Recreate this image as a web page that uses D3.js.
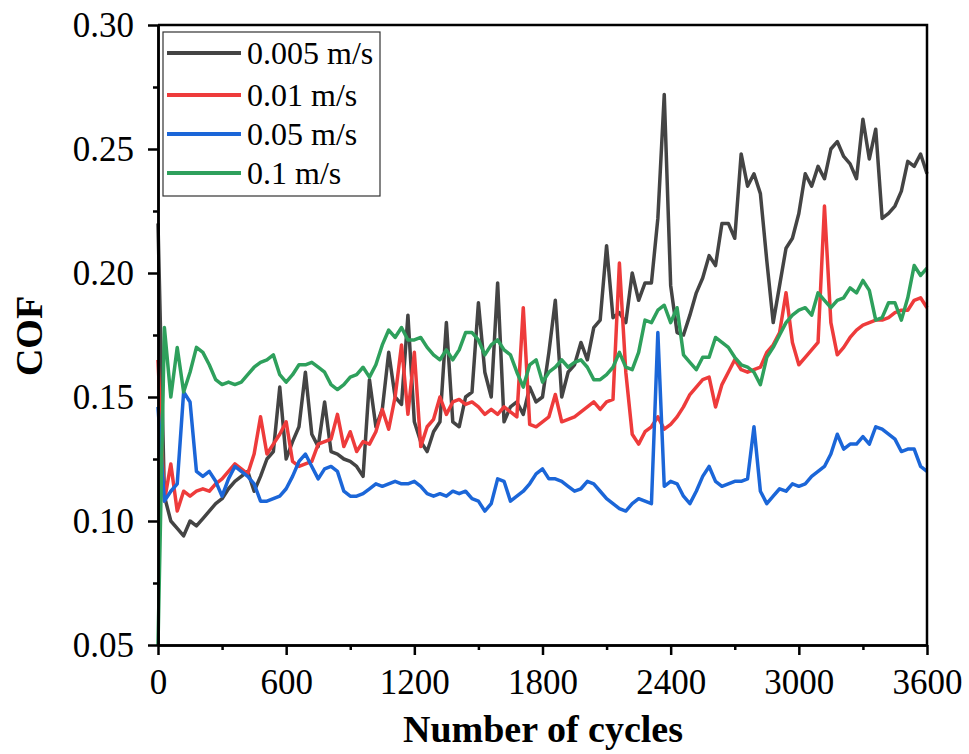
<!DOCTYPE html>
<html>
<head>
<meta charset="utf-8">
<script src="https://cdn.jsdelivr.net/npm/d3@7"></script>
<style>
  body { margin: 0; background: #fff; }
  svg { display: block; }
</style>
</head>
<body>
<svg width="969" height="754"></svg>
<script>
// cycles sampled every 30
const cycles = [
  0, 30, 60, 90, 120, 150, 180, 210, 240, 270,
  300, 330, 360, 390, 420, 450, 480, 510, 540, 570,
  600, 630, 660, 690, 720, 750, 780, 810, 840, 870,
  900, 930, 960, 990, 1020, 1050, 1080, 1110, 1140, 1170,
  1200, 1230, 1260, 1290, 1320, 1350, 1380, 1410, 1440, 1470,
  1500, 1530, 1560, 1590, 1620, 1650, 1680, 1710, 1740, 1770,
  1800, 1830, 1860, 1890, 1920, 1950, 1980, 2010, 2040, 2070,
  2100, 2130, 2160, 2190, 2220, 2250, 2280, 2310, 2340, 2370,
  2400, 2430, 2460, 2490, 2520, 2550, 2580, 2610, 2640, 2670,
  2700, 2730, 2760, 2790, 2820, 2850, 2880, 2910, 2940, 2970,
  3000, 3030, 3060, 3090, 3120, 3150, 3180, 3210, 3240, 3270,
  3300, 3330, 3360, 3390, 3420, 3450, 3480, 3510, 3540, 3570,
  3600
];

const cof0005 = [
  0.220, 0.110, 0.100, 0.097, 0.094, 0.100, 0.098, 0.101, 0.104, 0.107,
  0.109, 0.113, 0.116, 0.118, 0.120, 0.112, 0.118, 0.125, 0.128, 0.154,
  0.125, 0.132, 0.138, 0.160, 0.135, 0.130, 0.148, 0.128, 0.127, 0.125,
  0.124, 0.122, 0.118, 0.157, 0.138, 0.145, 0.168, 0.150, 0.147, 0.183,
  0.140, 0.132, 0.128, 0.136, 0.140, 0.180, 0.140, 0.138, 0.150, 0.152,
  0.188, 0.160, 0.150, 0.196, 0.140, 0.146, 0.148, 0.143, 0.154, 0.148,
  0.150, 0.168, 0.189, 0.150, 0.160, 0.163, 0.172, 0.165, 0.178, 0.181,
  0.211, 0.182, 0.184, 0.180, 0.200, 0.189, 0.196, 0.196, 0.222, 0.272,
  0.195, 0.176, 0.175, 0.183, 0.192, 0.198, 0.207, 0.203, 0.220, 0.220,
  0.214, 0.248, 0.235, 0.240, 0.232, 0.205, 0.180, 0.195, 0.210, 0.214,
  0.224, 0.240, 0.235, 0.243, 0.238, 0.250, 0.253, 0.247, 0.244, 0.238,
  0.262, 0.246, 0.258, 0.222, 0.224, 0.227, 0.233, 0.245, 0.243, 0.248,
  0.240
];

const cof001 = [
  0.165, 0.108, 0.123, 0.104, 0.112, 0.110, 0.112, 0.113, 0.112, 0.115,
  0.117, 0.120, 0.123, 0.121, 0.119, 0.127, 0.142, 0.127, 0.131, 0.135,
  0.140, 0.124, 0.122, 0.123, 0.124, 0.131, 0.132, 0.133, 0.143, 0.130,
  0.136, 0.128, 0.132, 0.131, 0.136, 0.145, 0.137, 0.150, 0.171, 0.143,
  0.168, 0.130, 0.138, 0.141, 0.150, 0.143, 0.148, 0.149, 0.147, 0.148,
  0.146, 0.143, 0.145, 0.143, 0.146, 0.144, 0.142, 0.186, 0.139, 0.138,
  0.140, 0.142, 0.151, 0.140, 0.141, 0.142, 0.144, 0.146, 0.148, 0.145,
  0.148, 0.149, 0.204, 0.160, 0.135, 0.131, 0.136, 0.138, 0.142, 0.137,
  0.139, 0.142, 0.146, 0.151, 0.154, 0.157, 0.158, 0.146, 0.155, 0.160,
  0.165, 0.161, 0.160, 0.161, 0.162, 0.168, 0.171, 0.176, 0.192, 0.172,
  0.163, 0.166, 0.169, 0.172, 0.227, 0.180, 0.167, 0.170, 0.174, 0.177,
  0.179, 0.180, 0.181, 0.181, 0.182, 0.184, 0.185, 0.185, 0.189, 0.190,
  0.186
];

const cof005 = [
  0.146, 0.108, 0.112, 0.115, 0.152, 0.148, 0.120, 0.118, 0.120, 0.116,
  0.110, 0.117, 0.122, 0.120, 0.118, 0.115, 0.108, 0.108, 0.109, 0.110,
  0.113, 0.118, 0.124, 0.127, 0.122, 0.117, 0.121, 0.122, 0.120, 0.112,
  0.110, 0.110, 0.111, 0.113, 0.115, 0.114, 0.115, 0.116, 0.115, 0.115,
  0.116, 0.114, 0.111, 0.110, 0.111, 0.110, 0.112, 0.111, 0.112, 0.109,
  0.108, 0.104, 0.107, 0.117, 0.116, 0.108, 0.110, 0.112, 0.115, 0.119,
  0.121, 0.117, 0.117, 0.116, 0.114, 0.112, 0.113, 0.116, 0.115, 0.112,
  0.109, 0.107, 0.105, 0.104, 0.107, 0.109, 0.108, 0.107, 0.176, 0.114,
  0.116, 0.115, 0.110, 0.107, 0.112, 0.118, 0.122, 0.116, 0.114, 0.115,
  0.116, 0.116, 0.117, 0.138, 0.112, 0.107, 0.110, 0.113, 0.112, 0.115,
  0.114, 0.115, 0.118, 0.120, 0.122, 0.127, 0.135, 0.129, 0.131, 0.131,
  0.134, 0.131, 0.138, 0.137, 0.135, 0.133, 0.128, 0.129, 0.129, 0.122,
  0.120
];

const cof01 = [
  0.050, 0.178, 0.150, 0.170, 0.152, 0.160, 0.170, 0.168, 0.163, 0.157,
  0.155, 0.156, 0.155, 0.156, 0.159, 0.162, 0.164, 0.165, 0.167, 0.159,
  0.156, 0.159, 0.163, 0.163, 0.164, 0.162, 0.160, 0.155, 0.153, 0.155,
  0.158, 0.159, 0.162, 0.158, 0.163, 0.171, 0.177, 0.174, 0.178, 0.173,
  0.173, 0.174, 0.170, 0.167, 0.165, 0.169, 0.165, 0.169, 0.176, 0.176,
  0.173, 0.167, 0.171, 0.173, 0.169, 0.167, 0.160, 0.154, 0.163, 0.165,
  0.156, 0.160, 0.162, 0.165, 0.162, 0.164, 0.165, 0.162, 0.157, 0.157,
  0.159, 0.162, 0.168, 0.162, 0.161, 0.168, 0.181, 0.180, 0.185, 0.187,
  0.180, 0.186, 0.167, 0.164, 0.161, 0.166, 0.166, 0.174, 0.172, 0.170,
  0.166, 0.163, 0.162, 0.160, 0.155, 0.166, 0.170, 0.175, 0.180, 0.183,
  0.185, 0.186, 0.183, 0.192, 0.189, 0.186, 0.189, 0.190, 0.194, 0.192,
  0.197, 0.193, 0.181, 0.182, 0.188, 0.188, 0.181, 0.190, 0.203, 0.199,
  0.202
];

const seriesNames = ['0.005 m/s', '0.01 m/s', '0.05 m/s', '0.1 m/s'];
const seriesValues = [cof0005, cof001, cof005, cof01];
const seriesColors = ['#444444', '#ee3b3b', '#1b66d8', '#2ea05c'];

const xTicks = [0, 600, 1200, 1800, 2400, 3000, 3600];
const xMinor = [300, 900, 1500, 2100, 2700, 3300];
const yTicks = [0.05, 0.10, 0.15, 0.20, 0.25, 0.30];
const yMinor = [0.075, 0.125, 0.175, 0.225, 0.275];

const svg = d3.select('svg');
const font = '"Liberation Serif", "Times New Roman", serif';

svg.append('rect').attr('width', 969).attr('height', 754).attr('fill', '#fff');

const plot = { left: 158, right: 927, top: 25, bottom: 645 };

const x = d3.scaleLinear().domain([0, 3600]).range([plot.left, plot.right]);
const y = d3.scaleLinear().domain([0.05, 0.30]).range([plot.bottom, plot.top]);

// data lines
const line = d3.line()
  .x((d, i) => x(cycles[i]))
  .y(d => y(d));

svg.append('g')
  .selectAll('path')
  .data(seriesValues)
  .join('path')
  .attr('d', d => line(d))
  .attr('fill', 'none')
  .attr('stroke', (d, i) => seriesColors[i])
  .attr('stroke-width', 3.5)
  .attr('stroke-linejoin', 'round');

// frame top + right
svg.append('path')
  .attr('d', `M${plot.left},${plot.top}H${plot.right}V${plot.bottom}`)
  .attr('fill', 'none')
  .attr('stroke', '#000')
  .attr('stroke-width', 2.5);

// axes
const yAxis = svg.append('g')
  .attr('transform', `translate(${plot.left},0)`)
  .call(d3.axisLeft(y).tickValues(yTicks).tickFormat(d3.format('.2f'))
    .tickSize(10).tickSizeOuter(0).tickPadding(14));
const yAxisMinor = svg.append('g')
  .attr('transform', `translate(${plot.left},0)`)
  .call(d3.axisLeft(y).tickValues(yMinor).tickFormat('').tickSize(5).tickSizeOuter(0));

const xAxis = svg.append('g')
  .attr('transform', `translate(0,${plot.bottom})`)
  .call(d3.axisBottom(x).tickValues(xTicks).tickFormat(d3.format('d'))
    .tickSize(10).tickSizeOuter(0).tickPadding(14));
const xAxisMinor = svg.append('g')
  .attr('transform', `translate(0,${plot.bottom})`)
  .call(d3.axisBottom(x).tickValues(xMinor).tickFormat('').tickSize(5).tickSizeOuter(0));

[yAxis, yAxisMinor, xAxis, xAxisMinor].forEach(g => {
  g.select('.domain').attr('stroke', '#000').attr('stroke-width', 2.5);
  g.selectAll('.tick line').attr('stroke', '#000').attr('stroke-width', 2.5);
  g.selectAll('.tick text')
    .attr('fill', '#000')
    .style('font-family', font)
    .style('font-size', '35px');
});

// axis titles
svg.append('text')
  .attr('transform', 'translate(42,336) rotate(-90)')
  .attr('text-anchor', 'middle')
  .style('font-family', font)
  .style('font-size', '38px')
  .style('font-weight', 'bold')
  .text('COF');

svg.append('text')
  .attr('x', 543)
  .attr('y', 742)
  .attr('text-anchor', 'middle')
  .style('font-family', font)
  .style('font-size', '38px')
  .style('font-weight', 'bold')
  .text('Number of cycles');

// legend
const legend = svg.append('g');
legend.append('rect')
  .attr('x', 163).attr('y', 32)
  .attr('width', 217).attr('height', 164)
  .attr('fill', '#fff')
  .attr('stroke', '#333')
  .attr('stroke-width', 1.2);

const legendRows = [53, 95, 134, 173];
seriesNames.forEach((name, i) => {
  legend.append('line')
    .attr('x1', 167).attr('x2', 241)
    .attr('y1', legendRows[i]).attr('y2', legendRows[i])
    .attr('stroke', seriesColors[i])
    .attr('stroke-width', 4);
  legend.append('text')
    .attr('x', 247)
    .attr('y', legendRows[i] + 11)
    .style('font-family', font)
    .style('font-size', '32px')
    .text(name);
});
</script>
</body>
</html>
